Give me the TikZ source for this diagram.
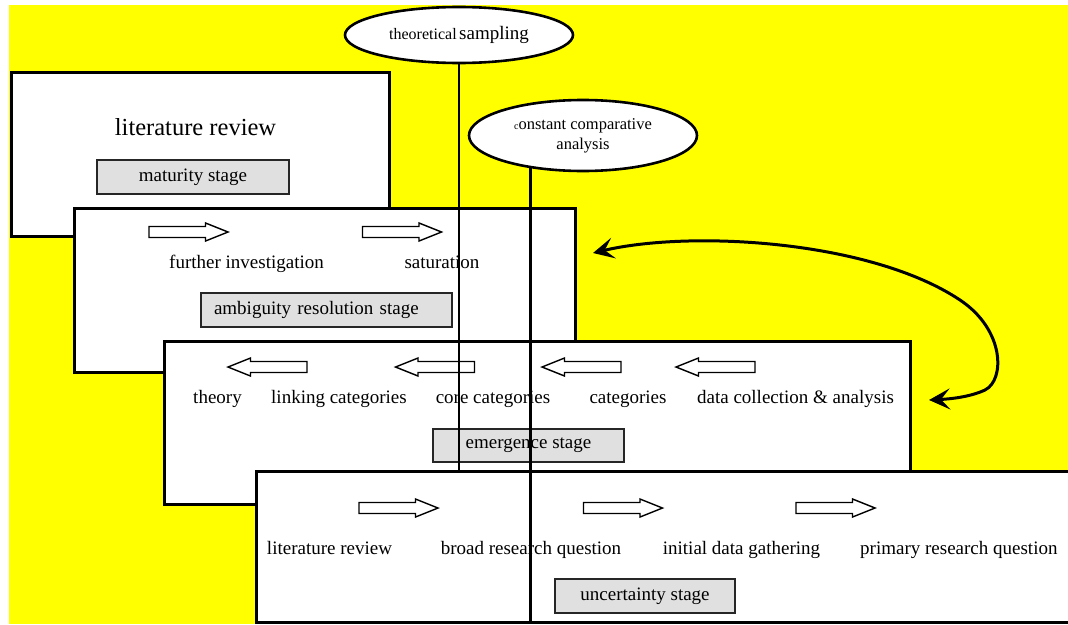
\documentclass[tikz,border=0pt]{standalone}
\usepackage{fontspec}
\setmainfont{Liberation Serif}
\usetikzlibrary{arrows.meta,shapes.geometric}
\definecolor{labgray}{RGB}{224,224,224}
\definecolor{bgyellow}{RGB}{255,255,0}
\begin{document}
\begin{tikzpicture}[x=1pt,y=-1pt,
  phase/.style={draw=black, line width=2.6pt, fill=white, anchor=north west, inner sep=0pt},
  graylab/.style={draw=black!85, line width=1.2pt, fill=labgray, inner sep=0pt,
    font=\fontsize{19}{22}\selectfont},
  txt/.style={inner sep=0pt, anchor=base, font=\fontsize{19}{22}\selectfont},
  ell/.style={ellipse, draw=black, line width=2.6pt, fill=white, inner sep=0pt},
  vline/.style={draw=black, line width=2.4pt},
  blockline/.style={draw=black, line width=1.4pt, fill=white},
  rblock/.pic={\path[blockline] (-39.5,-5.5) -- (17,-5.5) -- (17,-9) -- (39.5,0) -- (17,9) -- (17,5.5) -- (-39.5,5.5) -- cycle;},
  lblock/.pic={\path[blockline] (39.5,-5.5) -- (-17,-5.5) -- (-17,-9) -- (-39.5,0) -- (-17,9) -- (-17,5.5) -- (39.5,5.5) -- cycle;},
  cycarrow/.style={draw=black, line width=3pt,
    {Stealth[length=21pt,width=21pt,inset=9pt]}-{Stealth[length=21pt,width=21pt,inset=9pt]}}
]
\useasboundingbox (0,0) rectangle (1068,624);
\fill[bgyellow] (9,5) rectangle (1068,624);

% ellipses
\node[ell, minimum width=228pt, minimum height=56pt] (ts) at (459,35)
  {{\fontsize{16}{19}\selectfont theoretical} {\fontsize{19}{22}\selectfont sampling}};
\node[ell, minimum width=228pt, minimum height=71pt, align=center,
  font=\fontsize{16.5}{20}\selectfont] (cca) at (583,135.5)
  {{\fontsize{10}{12}\selectfont c}onstant comparative\\analysis};

% maturity stage
\node[phase, minimum width=378pt, minimum height=164pt] (b1) at (10,71) {};
\node[txt, font=\fontsize{24.5}{28}\selectfont] (b1t) at (195.5,135) {literature review};
\node[graylab, minimum width=192pt, minimum height=34pt] (b1l) at (193,177) {maturity stage};

% ambiguity resolution stage
\node[phase, minimum width=501pt, minimum height=164pt] (b2) at (73,207) {};
\pic (b2a1) at (188.5,232) {rblock};
\pic (b2a2) at (402,232) {rblock};
\node[txt] (b2t1) at (246.5,268.3) {further investigation};
\node[txt] (b2t2) at (442,268.3) {saturation};
\node[graylab, text width=225pt, align=left, inner xsep=13pt, minimum height=34pt] (b2l) at (326.5,310) {ambiguity resolution stage};

% emergence stage
\node[phase, minimum width=746pt, minimum height=163pt] (b3) at (163,340) {};
\pic (b3a1) at (267.5,367) {lblock};
\pic (b3a2) at (435,367) {lblock};
\pic (b3a3) at (581.5,367) {lblock};
\pic (b3a4) at (715.5,367) {lblock};
\node[txt] (b3t1) at (217.5,403.3) {theory};
\node[txt] (b3t2) at (339,403.3) {linking categories};
\node[txt] (b3t3) at (493,403.3) {core categories};
\node[txt] (b3t4) at (628,403.3) {categories};
\node[txt] (b3t5) at (795.5,403.3) {data collection \& analysis};
\node[graylab, minimum width=191pt, minimum height=33pt] (b3l) at (528.5,445.5) {emergence stage};

% theoretical sampling line (ends at the uncertainty box)
\coordinate (b4top) at (0,470);
\draw[vline] (ts.south) -- (ts.south |- b4top);

% uncertainty stage
\node[phase, minimum width=830pt, minimum height=151pt] (b4) at (255,470) {};
\pic (b4a1) at (398.5,508) {rblock};
\pic (b4a2) at (623,508) {rblock};
\pic (b4a3) at (835.5,508) {rblock};
\node[txt] (b4t1) at (329.5,554) {literature review};
\node[txt] (b4t2) at (531,554) {broad research question};
\node[txt] (b4t3) at (741.5,554) {initial data gathering};
\node[txt, anchor=base west] (b4t4) at (860,554) {primary research question};
\node[graylab, minimum width=180pt, minimum height=34pt] (b4l) at (645,596) {uncertainty stage};

% constant comparative analysis line
\coordinate (bottomedge) at (0,624);
\draw[vline] (cca.212) -- (cca.212 |- bottomedge);

% cycle arrow between ambiguity resolution and emergence stages
\coordinate (cvA) at (593,253);
\coordinate (cvB) at (929,400);
\draw[cycarrow] (cvA) .. controls (690,230) and (870,240) .. (960,300)
  .. controls (1005,330) and (1005,380) .. (985,390)
  .. controls (970,397) and (950,399) .. (cvB);
\end{tikzpicture}
\end{document}
